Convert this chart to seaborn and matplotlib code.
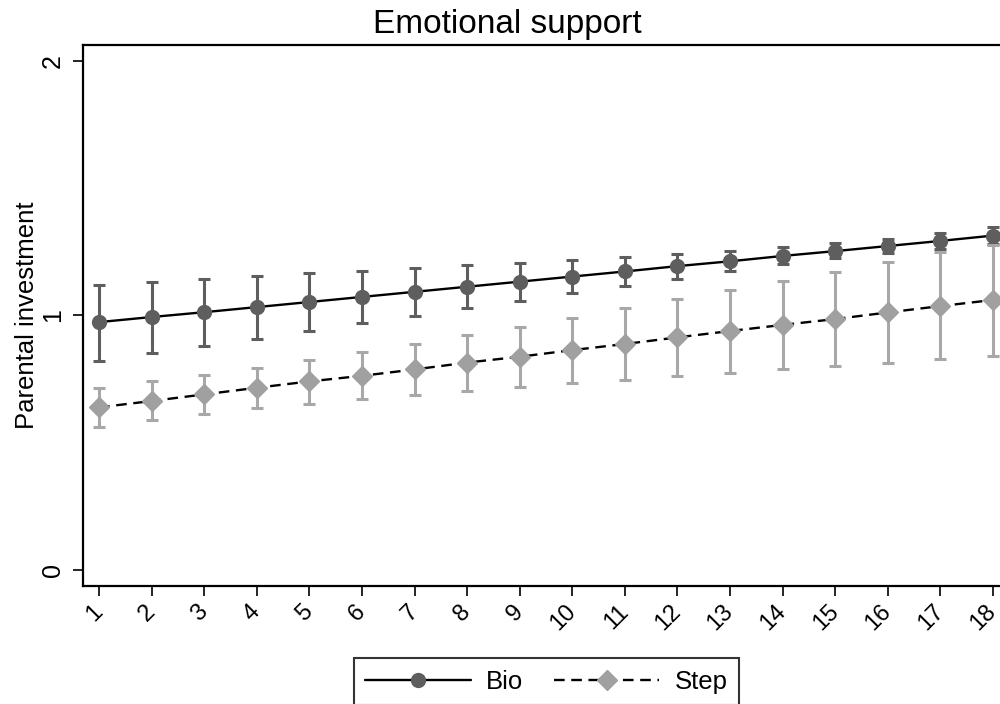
import numpy as np
import pandas as pd
import matplotlib
matplotlib.use("Agg")
import matplotlib.pyplot as plt
import seaborn as sns
from matplotlib.lines import Line2D

ages = list(range(1, 19))
bio_mean = [0.974, 0.994, 1.013, 1.033, 1.053, 1.073, 1.093, 1.113, 1.133, 1.153,
            1.173, 1.194, 1.213, 1.234, 1.253, 1.273, 1.293, 1.314]
bio_lo = [0.821, 0.851, 0.879, 0.909, 0.939, 0.969, 0.999, 1.028, 1.058, 1.087,
          1.116, 1.143, 1.175, 1.201, 1.225, 1.244, 1.260, 1.281]
bio_hi = [1.121, 1.133, 1.143, 1.155, 1.166, 1.176, 1.187, 1.197, 1.208, 1.218,
          1.229, 1.242, 1.253, 1.268, 1.283, 1.299, 1.323, 1.349]
step_mean = [0.639, 0.664, 0.690, 0.716, 0.741, 0.763, 0.788, 0.815, 0.838, 0.864,
             0.888, 0.914, 0.939, 0.963, 0.986, 1.012, 1.037, 1.061]
step_lo = [0.563, 0.588, 0.612, 0.635, 0.653, 0.672, 0.688, 0.705, 0.720, 0.734,
           0.747, 0.762, 0.775, 0.789, 0.802, 0.815, 0.828, 0.841]
step_hi = [0.716, 0.741, 0.766, 0.794, 0.825, 0.857, 0.889, 0.922, 0.956, 0.991,
           1.028, 1.064, 1.100, 1.137, 1.172, 1.211, 1.248, 1.277]
groups = ["Bio", "Step"]

sns.set_style("white")
plt.rcParams['font.family'] = ['Liberation Sans', 'DejaVu Sans']
plt.rcParams['text.color'] = 'black'
plt.rcParams['axes.labelcolor'] = 'black'
plt.rcParams['xtick.color'] = 'black'
plt.rcParams['ytick.color'] = 'black'

df = pd.DataFrame({
    "age": ages * 2,
    "mean": bio_mean + step_mean,
    "lo": bio_lo + step_lo,
    "hi": bio_hi + step_hi,
    "group": ["Bio"] * 18 + ["Step"] * 18,
})

fig = plt.figure(figsize=(10, 7.04), dpi=100)
ax = fig.add_axes([0.083, 0.1676, 0.93, 0.7685])

bio_c = "#5e5e5e"
step_c = "#a0a0a0"
bio_ci = "#5e5e5e"
step_ci = "#a8a8a8"
dash = (0, (4.5, 2.8))

for g, mc, cc, ls, mk, ms in [("Bio", bio_c, bio_ci, "-", "o", 10),
                               ("Step", step_c, step_ci, dash, "D", 10.5)]:
    d = df[df.group == g]
    ax.errorbar(d["age"], d["mean"],
                yerr=[d["mean"] - d["lo"], d["hi"] - d["mean"]],
                fmt="none", ecolor=cc, elinewidth=2.2, capsize=4.5, capthick=2.2, zorder=2)
    sns.lineplot(x=d["age"], y=d["mean"], ax=ax, color="black", linewidth=1.7,
                 linestyle=ls, zorder=3, legend=False)
    ax.plot(d["age"], d["mean"], linestyle="none", marker=mk, markersize=ms,
            color=mc, markeredgecolor=mc, zorder=4)

ax.set_xlim(1 - 16 / 52.4, 18 + 20 / 52.4)
ax.set_ylim(-0.063, 2.063)
ax.set_xticks(ages)
ax.set_xticklabels([str(a) for a in ages], rotation=45, fontsize=17,
                   ha="right", va="center", rotation_mode="anchor")
ax.set_yticks([0, 1, 2])
ax.set_yticklabels(["0", "1", "2"], rotation=90, fontsize=18, va="center")
ax.tick_params(axis="both", direction="out", length=7, width=1.2, color="black",
               bottom=True, left=True)
ax.tick_params(axis="x", pad=9)
ax.tick_params(axis="y", pad=6)
ax.set_xlabel("")
ax.set_ylabel("Parental investment", fontsize=18.5)
ax.yaxis.set_label_coords(-0.047, 0.5)
fig.text(0.507, 0.953, "Emotional support", fontsize=24, ha="center", va="baseline")
for s in ["left", "bottom", "top"]:
    ax.spines[s].set_visible(True)
    ax.spines[s].set_color("black")
    ax.spines[s].set_linewidth(1.6)
ax.spines["right"].set_visible(False)

handles = [
    Line2D([0], [0], color="black", linewidth=1.7, marker="o", markersize=10,
           markerfacecolor=bio_c, markeredgecolor=bio_c),
    Line2D([0], [0], color="black", linewidth=1.7, linestyle=dash, marker="D",
           markersize=10.5, markerfacecolor=step_c, markeredgecolor=step_c),
]
leg = fig.legend(handles, groups, loc="upper center", bbox_to_anchor=(0.5465, 0.0653),
                 ncol=2, fontsize=18.5, frameon=True, fancybox=False, edgecolor="black",
                 handlelength=4.1, handletextpad=0.6, columnspacing=1.2, borderpad=0.45,
                 borderaxespad=0)
leg.get_frame().set_linewidth(1.5)

fig.savefig("out.png", dpi=100)
